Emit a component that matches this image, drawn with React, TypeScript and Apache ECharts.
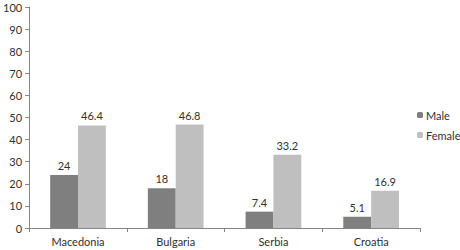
import React, { useEffect, useRef } from "react";
import * as echarts from "echarts";

const categories = ["Macedonia", "Bulgaria", "Serbia", "Croatia"];
const maleValues = [24, 18, 7.4, 5.1];
const femaleValues = [46.4, 46.8, 33.2, 16.9];
const seriesNames = ["Male", "Female"];

const FONT = "Lato, 'Liberation Sans', sans-serif";
const TEXT = "#303030";

export default function App() {
  const ref = useRef<HTMLDivElement>(null);
  useEffect(() => {
    if (!ref.current) return;
    const chart = echarts.init(ref.current, undefined, { renderer: "svg" });
    const label = {
      show: true,
      position: "top" as const,
      distance: 4,
      color: TEXT,
      fontSize: 11,
      fontFamily: FONT,
    };
    chart.setOption({
      animation: false,
      backgroundColor: "#ffffff",
      textStyle: { fontFamily: FONT },
      grid: { left: 26, right: 40, top: 7, bottom: 22, containLabel: false },
      legend: {
        orient: "vertical",
        left: 412,
        top: 103,
        itemWidth: 6,
        itemHeight: 6,
        itemGap: 6,
        textStyle: {
          fontSize: 11,
          lineHeight: 14,
          color: TEXT,
          fontFamily: FONT,
          padding: [0, 0, 0, -2],
        },
        data: seriesNames,
      },
      xAxis: {
        type: "category",
        data: categories,
        axisLine: { show: true, lineStyle: { color: "#868686", width: 1 } },
        axisTick: { show: true, alignWithLabel: false, length: 4, lineStyle: { color: "#868686" } },
        axisLabel: { color: TEXT, fontSize: 11, fontFamily: FONT, margin: 8 },
        splitLine: { show: false },
      },
      yAxis: {
        type: "value",
        min: 0,
        max: 100,
        interval: 10,
        axisLine: { show: true, lineStyle: { color: "#868686", width: 1 } },
        axisTick: { show: true, length: 4, lineStyle: { color: "#868686" } },
        axisLabel: { color: TEXT, fontSize: 11, fontFamily: FONT, margin: 7 },
        splitLine: { show: false },
      },
      series: [
        {
          name: seriesNames[0],
          type: "bar",
          data: maleValues,
          itemStyle: { color: "#7f7f7f" },
          barGap: "0%",
          barCategoryGap: "43%",
          label,
        },
        {
          name: seriesNames[1],
          type: "bar",
          data: femaleValues,
          itemStyle: { color: "#bfbfbf" },
          barGap: "0%",
          barCategoryGap: "43%",
          label,
        },
      ],
    });
    return () => chart.dispose();
  }, []);
  return (
    <div
      ref={ref}
      style={{ width: 460, height: 250, position: "absolute", left: 0, top: 0 }}
    />
  );
}
